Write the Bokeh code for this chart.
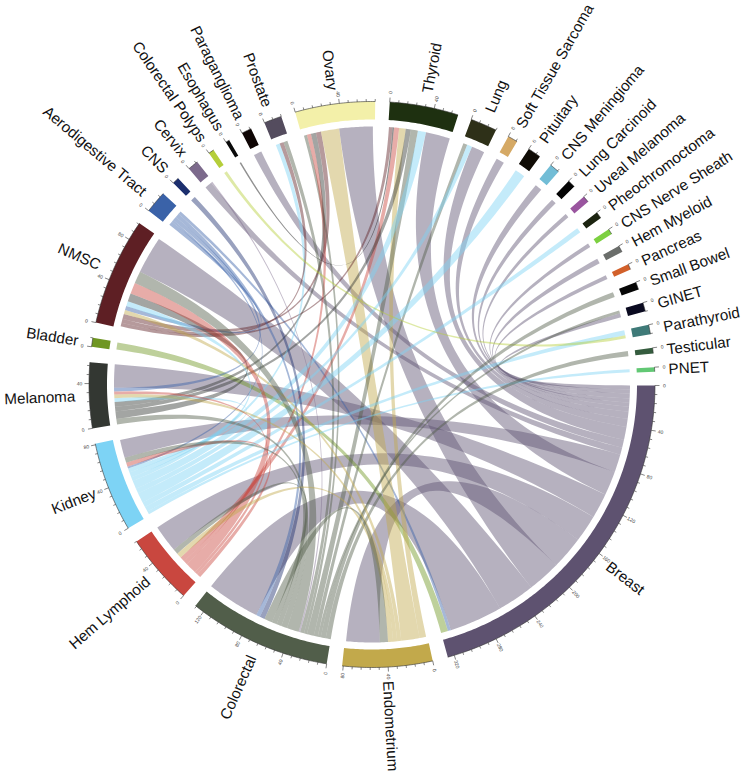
import math
from bokeh.plotting import figure
from bokeh.models import Range1d
from bokeh.core.properties import value
from bokeh.embed import file_html
from bokeh.resources import INLINE

SECTORS = ["Breast","Endometrium","Colorectal","Hem Lymphoid","Kidney","Melanoma","Bladder","NMSC",
 "Aerodigestive Tract","CNS","Cervix","Colorectal Polyps","Esophagus","Paraganglioma","Prostate","Ovary",
 "Thyroid","Lung","Soft Tissue Sarcoma","Pituitary","CNS Meningioma","Lung Carcinoid","Uveal Melanoma",
 "Pheochromoctoma","CNS Nerve Sheath","Hem Myeloid","Pancreas","Small Bowel","GINET","Parathyroid","Testicular","PNET"]
SIZES = [326,81,129,64,81,59,8,97,20,6,9.5,5,3.5,9,16,72,62,24,9,12,9,7,6,6,5,6,5,7,8,8.5,5,4]
COLORS = ["#5E5270","#C2A94B","#515E4A","#C9473F","#7DD3F5","#333732","#6F9622","#5E1F24","#3A62A8","#1C2F6E",
 "#7C6A8C","#B5CE3A","#0A0A0A","#0F0605","#544C5E","#F3F0A9","#1E3010","#2E3018","#D5A965","#100C06","#72BDD6",
 "#050505","#9A559F","#1C2410","#7CD040","#6B6E6B","#D2602A","#060606","#0A0A20","#3F7A78","#355C3E","#62C874"]

# (sector a, sector b, value, sector whose colour the ribbon takes)
LINKS = [
 ("Breast","GINET",4,"Breast"),("Breast","Pancreas",4,"Breast"),("Breast","Hem Myeloid",5,"Breast"),
 ("Breast","CNS Nerve Sheath",4,"Breast"),("Breast","Uveal Melanoma",4,"Breast"),("Breast","Lung Carcinoid",5,"Breast"),
 ("Breast","CNS Meningioma",7,"Breast"),("Breast","Soft Tissue Sarcoma",8,"Breast"),("Breast","Lung",13,"Breast"),
 ("Breast","Paraganglioma",8,"Breast"),("Breast","Cervix",7,"Breast"),("Breast","Kidney",18,"Breast"),
 ("Breast","Thyroid",24,"Breast"),("Breast","Melanoma",25,"Breast"),("Breast","Hem Lymphoid",27,"Breast"),
 ("Breast","NMSC",37,"Breast"),("Breast","Ovary",33,"Breast"),("Breast","Endometrium",33,"Breast"),
 ("Breast","Colorectal",53,"Breast"),("Breast","Aerodigestive Tract",3,"Aerodigestive Tract"),("Breast","Bladder",7,"Bladder"),
 ("Ovary","Colorectal",3,"Colorectal"),("Ovary","Hem Lymphoid",4,"Hem Lymphoid"),("Ovary","Melanoma",5,"Melanoma"),
 ("Ovary","NMSC",5,"NMSC"),("Ovary","Endometrium",18,"Endometrium"),
 ("Thyroid","NMSC",3.5,"NMSC"),("Thyroid","Esophagus",1.5,"Esophagus"),("Thyroid","Hem Lymphoid",5,"Hem Lymphoid"),("Thyroid","Endometrium",6.5,"Endometrium"),
 ("Thyroid","Melanoma",5,"Melanoma"),("Thyroid","Colorectal",7,"Colorectal"),("Thyroid","Kidney",8,"Kidney"),
 ("Prostate","Kidney",4,"Kidney"),("Prostate","NMSC",4,"NMSC"),("Prostate","Colorectal",4,"Colorectal"),
 ("Lung","Colorectal",4,"Colorectal"),("Lung","Kidney",5,"Kidney"),
 ("Pituitary","Kidney",10,"Kidney"),("Pheochromoctoma","Kidney",5,"Kidney"),("PNET","Kidney",3,"Kidney"),
 ("Parathyroid","Kidney",5,"Kidney"),("Parathyroid","Colorectal Polyps",3,"Colorectal Polyps"),
 ("Testicular","Colorectal",5,"Colorectal"),("GINET","Colorectal",3,"Colorectal"),("Small Bowel","Colorectal",5,"Colorectal"),
 ("Cervix","Colorectal",1.5,"Cervix"),("CNS","Colorectal",5,"CNS"),
 ("Aerodigestive Tract","Colorectal",4,"Aerodigestive Tract"),("Aerodigestive Tract","NMSC",4,"Aerodigestive Tract"),
 ("Aerodigestive Tract","Melanoma",4,"Aerodigestive Tract"),("Aerodigestive Tract","Kidney",2,"Aerodigestive Tract"),
 ("NMSC","Endometrium",4,"Endometrium"),("NMSC","Kidney",5,"Kidney"),("NMSC","Melanoma",8,"Melanoma"),
 ("NMSC","Hem Lymphoid",11,"Hem Lymphoid"),("NMSC","Colorectal",12,"Colorectal"),
 ("Melanoma","Colorectal",6,"Colorectal"),("Melanoma","Kidney",4,"Kidney"),("Melanoma","Endometrium",4,"Endometrium"),
 ("Melanoma","Hem Lymphoid",3,"Hem Lymphoid"),
 ("Kidney","Hem Lymphoid",4,"Hem Lymphoid"),("Kidney","Colorectal",5,"Colorectal"),
 ("Hem Lymphoid","Endometrium",5,"Endometrium"),("Hem Lymphoid","Colorectal",5,"Colorectal"),
 ("Endometrium","Colorectal",8,"Colorectal"),
]

# partners of each sector, clockwise along the sector
ORDER = {
 "Breast":["GINET","Pancreas","Hem Myeloid","CNS Nerve Sheath","Uveal Melanoma","Lung Carcinoid","CNS Meningioma",
           "Soft Tissue Sarcoma","Lung","Paraganglioma","Cervix","Kidney","Thyroid","Melanoma","Hem Lymphoid","Endometrium","Ovary",
           "NMSC","Colorectal","Aerodigestive Tract","Bladder"],
 "Endometrium":["Thyroid","Ovary","NMSC","Melanoma","Hem Lymphoid","Colorectal","Breast"],
 "Colorectal":["Testicular","Small Bowel","GINET","Lung","Thyroid","Ovary","Prostate","Cervix","NMSC",
               "Melanoma","Kidney","Hem Lymphoid","Endometrium","CNS","Aerodigestive Tract","Breast"],
 "Hem Lymphoid":["Kidney","Melanoma","NMSC","Ovary","Thyroid","Endometrium","Colorectal","Breast"],
 "Kidney":["PNET","Parathyroid","Pheochromoctoma","Pituitary","Lung","Thyroid","Prostate","NMSC","Melanoma",
           "Aerodigestive Tract","Hem Lymphoid","Colorectal","Breast"],
 "Melanoma":["Colorectal","NMSC","Thyroid","Ovary","Kidney","Endometrium","Hem Lymphoid","Aerodigestive Tract","Breast"],
 "NMSC":["Thyroid","Prostate","Ovary","Endometrium","Aerodigestive Tract","Kidney","Melanoma","Hem Lymphoid","Colorectal","Breast"],
 "Aerodigestive Tract":["NMSC","Kidney","Melanoma","Colorectal","Breast"],
 "Cervix":["Breast","Colorectal"],
 "Prostate":["Kidney","NMSC","Colorectal"],
 "Ovary":["Colorectal","Hem Lymphoid","Melanoma","NMSC","Endometrium","Breast"],
 "Thyroid":["NMSC","Esophagus","Hem Lymphoid","Endometrium","Melanoma","Colorectal","Kidney","Breast"],
 "Lung":["Colorectal","Kidney","Breast"],
 "GINET":["Colorectal","Breast"],
 "Parathyroid":["Kidney","Colorectal Polyps"],
}

TICK_STEP = 8
LABEL_STEP = 40

GAPS = [3.15] * 8 + [2.95] * 8 + [2.8] * 16
R_OUT, R_IN, R_RIB, R_TICK, R_NAME = 283.0, 265.0, 258.0, 293.0, 297.0
ALPHA = 0.45

deg_per_unit = (360 - sum(GAPS)) / sum(SIZES)
start = {}
cursor = 0.2
for n, s, g in zip(SECTORS, SIZES, GAPS):
    start[n] = cursor
    cursor += s * deg_per_unit + g
size = dict(zip(SECTORS, SIZES))
color = dict(zip(SECTORS, COLORS))

def pt(r, deg):
    t = math.radians(deg)
    return r * math.cos(t), -r * math.sin(t)

def arc(r, a0, a1, n=None):
    n = n or max(2, int(abs(a1 - a0) / 0.5) + 2)
    return [pt(r, a0 + (a1 - a0) * i / (n - 1)) for i in range(n)]

def bez(p0, p2, n=60):
    return [((1 - i / n) ** 2 * p0[0] + (i / n) ** 2 * p2[0], (1 - i / n) ** 2 * p0[1] + (i / n) ** 2 * p2[1]) for i in range(n + 1)]

# where each link lands on each sector
val = {}
for a, b, v, o in LINKS:
    val[(a, b)] = v
    val[(b, a)] = v
partners = {n: [] for n in SECTORS}
for a, b, v, o in LINKS:
    partners[a].append(b)
    partners[b].append(a)
ends = {}
for n in SECTORS:
    seq = ORDER.get(n, partners[n])
    total = sum(val[(n, m)] for m in seq)
    k = min(1.0, size[n] / total) if total else 1.0
    pos = start[n] + (size[n] - total * k) / 2 * deg_per_unit
    for m in seq:
        w = val[(n, m)] * k * deg_per_unit
        ends[(n, m)] = (pos, pos + w)
        pos += w

p = figure(width=741, height=775, output_backend="svg", toolbar_location=None,
           x_range=Range1d(-371.5, 369.5), y_range=Range1d(-391, 384), min_border=0)
p.axis.visible = False
p.grid.visible = False
p.outline_line_color = None

xs, ys, cs = [], [], []
for a, b, v, o in LINKS:
    a0, a1 = ends[(a, b)]
    b0, b1 = ends[(b, a)]
    path = arc(R_RIB, a0, a1) + bez(pt(R_RIB, a1), pt(R_RIB, b0)) + arc(R_RIB, b0, b1) + bez(pt(R_RIB, b1), pt(R_RIB, a0))
    xs.append([q[0] for q in path]); ys.append([q[1] for q in path]); cs.append(color[o])
p.patches(xs, ys, fill_color=cs, fill_alpha=ALPHA, line_color=None)

bx, by, bc = [], [], []
tx0, ty0, tx1, ty1 = [], [], [], []
lx, ly, lt, la = [], [], [], []
axx, axy = [], []
for n in SECTORS:
    a0 = start[n]; a1 = a0 + size[n] * deg_per_unit
    path = arc(R_OUT, a0, a1) + arc(R_IN, a1, a0)
    bx.append([q[0] for q in path]); by.append([q[1] for q in path]); bc.append(color[n])
    ar = arc(R_OUT, a0, a1)
    axx.append([q[0] for q in ar]); axy.append([q[1] for q in ar])
    u = 0
    while u <= size[n] + 1e-6:
        d = a0 + u * deg_per_unit
        major = u % LABEL_STEP == 0
        x0, y0 = pt(R_OUT, d); x1, y1 = pt(R_OUT + (4.5 if major else 2.5), d)
        tx0.append(x0); ty0.append(y0); tx1.append(x1); ty1.append(y1)
        if major:
            x, y = pt(R_TICK - 0.5, d)
            lx.append(x); ly.append(y); lt.append(str(u))
            la.append(math.radians(-d if math.cos(math.radians(d)) >= 0 else 180 - d))
        u += TICK_STEP

p.patches(bx, by, fill_color=bc, line_color=None)
p.multi_line(axx, axy, line_color="#333333", line_width=0.6)
p.segment(tx0, ty0, tx1, ty1, line_color="#333333", line_width=0.6)
p.text(lx, ly, text=lt, angle=la, text_font=value("Liberation Sans"), text_font_size="5px",
       text_color="#444444", text_align="center", text_baseline="middle")

for side in (1, -1):
    nx, ny, nt, na = [], [], [], []
    for n in SECTORS:
        d = start[n] + size[n] * deg_per_unit / 2
        c = math.cos(math.radians(d))
        if (c >= 0) == (side > 0):
            x, y = pt(R_NAME, d)
            nx.append(x); ny.append(y); nt.append(n)
            na.append(math.radians(-d if side > 0 else 180 - d))
    p.text(nx, ny, text=nt, angle=na, text_font=value("Liberation Sans"), text_font_size="15.2px",
           text_color="#111111", text_align="left" if side > 0 else "right", text_baseline="middle")

open("out.html", "w").write(file_html(p, INLINE))
